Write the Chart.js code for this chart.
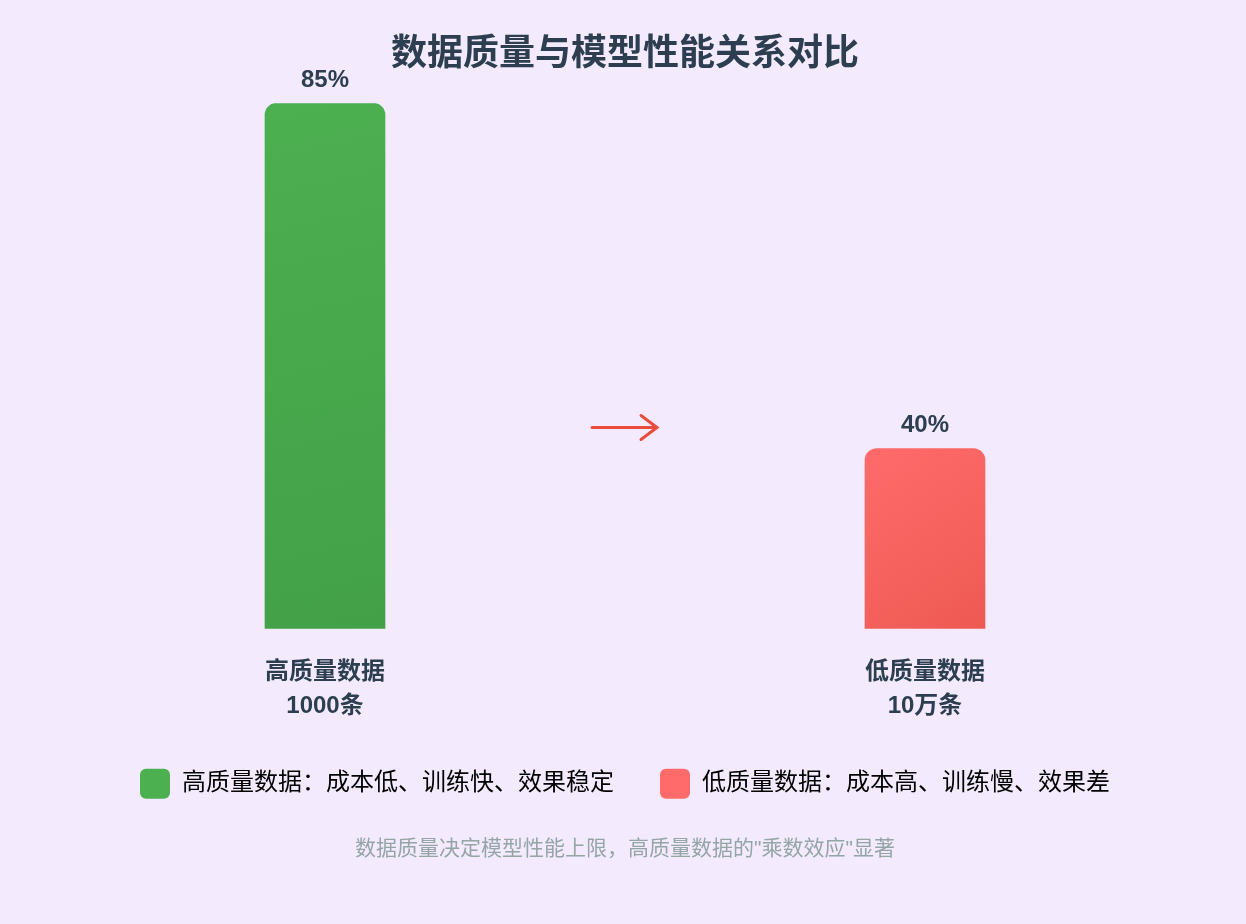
<!DOCTYPE html>
<html>
<head>
<meta charset="utf-8">
<script src="https://cdn.jsdelivr.net/npm/chart.js@4"></script>
<style>
  html, body { margin: 0; padding: 0; background: #f3ebfd; }
  #wrap { position: relative; width: 1246px; height: 924px; }
</style>
</head>
<body>
<div id="wrap"><canvas id="qualityChart"></canvas></div>
<script>
// chart values
const categories = [['高质量数据', '1000条'], ['低质量数据', '10万条']];
const highQuality = [85, null];
const lowQuality = [null, 40];
const valueLabels = ['85%', '40%'];
const legendTexts = ['高质量数据：成本低、训练快、效果稳定', '低质量数据：成本高、训练慢、效果差'];
const titleText = '数据质量与模型性能关系对比';
const footText = '数据质量决定模型性能上限，高质量数据的"乘数效应"显著';

const FONT = '"Liberation Sans", "Noto Sans CJK SC", sans-serif';

// diagonal gradient for each bar
function barGradient(context, from, to) {
    const chart = context.chart;
    if (!chart.chartArea || !chart.scales.x || context.raw == null) return from;
    const x = chart.scales.x.getPixelForValue(context.dataIndex);
    const yTop = chart.scales.y.getPixelForValue(context.raw);
    const yBot = chart.scales.y.getPixelForValue(chart.scales.y.min);
    const g = chart.ctx.createLinearGradient(x - 60, yTop, x + 60, yBot);
    g.addColorStop(0, from);
    g.addColorStop(1, to);
    return g;
}

// value labels above bars and the arrow between them
const decorations = {
    id: 'decorations',
    afterDatasetsDraw(chart) {
        const ctx = chart.ctx;
        const area = chart.chartArea;
        ctx.save();
        ctx.fillStyle = '#2c3e50';
        ctx.font = 'bold 24px ' + FONT;
        ctx.textAlign = 'center';
        ctx.textBaseline = 'alphabetic';
        chart.data.datasets.forEach((ds, di) => {
            const meta = chart.getDatasetMeta(di);
            meta.data.forEach((bar, i) => {
                if (ds.data[i] == null) return;
                ctx.fillText(valueLabels[i], bar.x, bar.y - 16);
            });
        });

        // arrow
        const cx = (chart.scales.x.getPixelForValue(0) + chart.scales.x.getPixelForValue(1)) / 2;
        const cy = area.top + (area.bottom - area.top) * 0.617;
        ctx.strokeStyle = '#e74c3c';
        ctx.lineWidth = 3;
        ctx.lineCap = 'round';
        ctx.beginPath();
        ctx.moveTo(cx - 33, cy);
        ctx.lineTo(cx + 32, cy);
        ctx.moveTo(cx + 16, cy - 12);
        ctx.lineTo(cx + 32, cy);
        ctx.lineTo(cx + 16, cy + 12);
        ctx.stroke();
        ctx.restore();
    }
};

const bgPlugin = {
    id: 'bg',
    beforeDraw(chart) {
        const ctx = chart.ctx;
        ctx.save();
        ctx.fillStyle = '#f3ebfd';
        ctx.fillRect(0, 0, chart.width, chart.height);
        ctx.restore();
    }
};

const ctx = document.getElementById('qualityChart').getContext('2d');

const qualityChart = new Chart(ctx, {
    type: 'bar',
    data: {
        labels: categories,
        datasets: [
            {
                label: legendTexts[0],
                data: highQuality,
                backgroundColor: c => barGradient(c, '#4caf50', '#43a047'),
                borderRadius: 12,
                barThickness: 120
            },
            {
                label: legendTexts[1],
                data: lowQuality,
                backgroundColor: c => barGradient(c, '#ff6b6b', '#ee5a52'),
                borderRadius: 12,
                barThickness: 120
            }
        ]
    },
    options: {
        responsive: true,
        maintainAspectRatio: false,
        animation: false,
        skipNull: true,
        layout: {
            padding: { left: 25, right: 21, top: 0, bottom: 0 }
        },
        scales: {
            x: {
                grid: { display: false, drawTicks: false },
                border: { display: false },
                ticks: {
                    color: '#2c3e50',
                    font: { family: FONT, size: 24, weight: 'bold', lineHeight: 1.4 },
                    padding: 27
                },
                afterFit: scale => { scale.height = 94; }
            },
            y: {
                display: false,
                min: 16.5,
                max: 85
            }
        },
        plugins: {
            title: {
                display: true,
                text: titleText,
                color: '#2c3e50',
                font: { family: FONT, size: 36, weight: 'bold', lineHeight: 1.2 },
                padding: { top: 33, bottom: 27 }
            },
            subtitle: {
                display: true,
                position: 'bottom',
                text: footText,
                color: '#95a5a6',
                font: { family: FONT, size: 21, weight: 'normal', lineHeight: 1.2 },
                padding: { top: 28, bottom: 62 }
            },
            legend: {
                position: 'bottom',
                labels: {
                    boxWidth: 30,
                    boxHeight: 30,
                    useBorderRadius: true,
                    borderRadius: 6,
                    padding: 46,
                    color: '#111111',
                    font: { family: FONT, size: 24 },
                    generateLabels: () => [
                        { text: legendTexts[0], fillStyle: '#4caf50', strokeStyle: '#4caf50', lineWidth: 0, borderRadius: 6, datasetIndex: 0 },
                        { text: legendTexts[1], fillStyle: '#ff6b6b', strokeStyle: '#ff6b6b', lineWidth: 0, borderRadius: 6, datasetIndex: 1 }
                    ]
                }
            },
            tooltip: { enabled: false }
        }
    },
    plugins: [bgPlugin, decorations]
});
</script>
</body>
</html>
